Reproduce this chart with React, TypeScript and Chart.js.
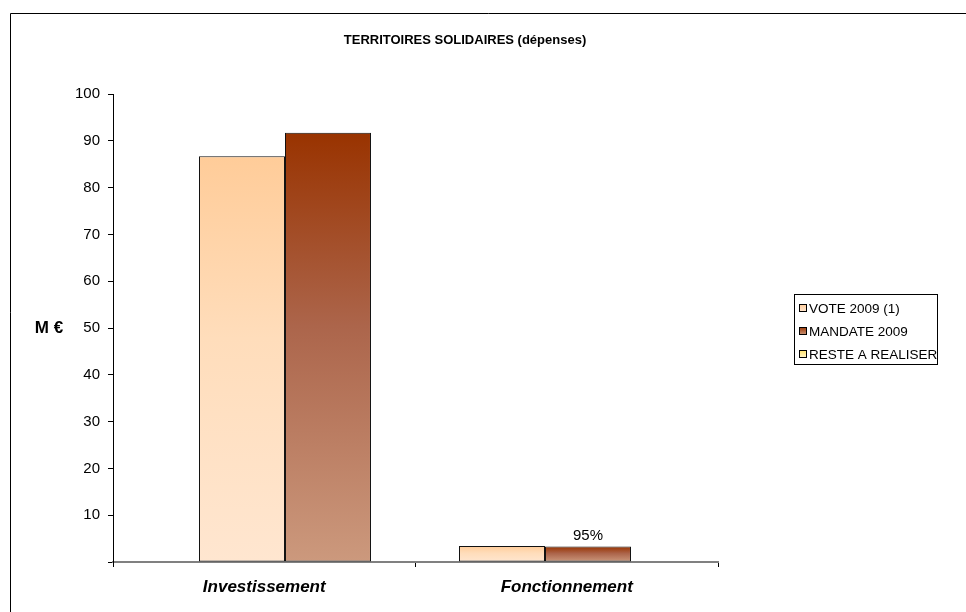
import React, { useEffect, useRef } from 'react';
import { Chart, registerables } from 'chart.js';
Chart.register(...registerables);

const chartTitle = 'TERRITOIRES SOLIDAIRES (dépenses)';
const yTitle = 'M €';
const categories = ['Investissement', 'Fonctionnement'];
const seriesNames = ['VOTE 2009 (1)', 'MANDATE 2009', 'RESTE A REALISER'];
const voteValues = [86.7, 3.4];
const mandateValues = [91.7, 3.3];
const resteValues: (number | null)[] = [null, null];
const mandateLabels = ['', '95%'];
const yMin = 0;
const yMax = 100;
const yStep = 10;

const voteColors = ['#FFCC99', '#FFDDBB', '#FFE6D0'];
const mandateColors = ['#993300', '#AC654B', '#CC997D'];
const resteColors = ['#FFE066', '#FFEC99', '#FFF5CC'];
const seriesColors = [voteColors, mandateColors, resteColors];

const FONT = '"Liberation Sans", Arial, Helvetica, sans-serif';

function gradientFor(colors: string[]) {
  return (ctx: any) => {
    const chart = ctx.chart;
    const area = chart.chartArea;
    if (!area || ctx.type !== 'data' || !ctx.parsed) return colors[0];
    const ys = chart.scales.y;
    const top = ys.getPixelForValue(ctx.parsed.y);
    const bottom = ys.getPixelForValue(0);
    if (!isFinite(top) || !isFinite(bottom) || bottom - top < 1) return colors[0];
    const g = chart.ctx.createLinearGradient(0, top, 0, bottom);
    g.addColorStop(0, colors[0]);
    g.addColorStop(0.45, colors[1]);
    g.addColorStop(1, colors[2]);
    return g;
  };
}

const decorPlugin = {
  id: 'decor',
  beforeDraw(chart: any) {
    const c = chart.ctx;
    c.save();
    c.fillStyle = '#fff';
    c.fillRect(0, 0, chart.width, chart.height);
    c.strokeStyle = '#000';
    c.lineWidth = 1;
    c.beginPath();
    c.moveTo(10.5, chart.height);
    c.lineTo(10.5, 13.5);
    c.lineTo(chart.width, 13.5);
    c.stroke();
    c.restore();
  },
  afterDatasetsDraw(chart: any) {
    const c = chart.ctx;
    const meta = chart.getDatasetMeta(1);
    c.save();
    c.font = `15px ${FONT}`;
    c.fillStyle = '#000';
    c.textAlign = 'center';
    c.textBaseline = 'bottom';
    meta.data.forEach((bar: any, i: number) => {
      if (mandateLabels[i]) c.fillText(mandateLabels[i], bar.x, bar.y - 3);
    });
    c.restore();
  },
  afterDraw(chart: any) {
    const c = chart.ctx;
    c.save();
    c.font = `bold 13px ${FONT}`;
    c.fillStyle = '#000';
    c.textAlign = 'center';
    c.textBaseline = 'middle';
    c.fillText(chartTitle, 465, 40);
    c.font = `bold 17px ${FONT}`;
    c.fillText(yTitle, 49, 328);
    const lx = 794, ly = 294, lw = 143, lh = 70;
    c.strokeStyle = '#000';
    c.lineWidth = 1;
    c.strokeRect(lx + 0.5, ly + 0.5, lw, lh);
    c.font = `13.5px ${FONT}`;
    c.textAlign = 'left';
    seriesNames.forEach((name, i) => {
      const cy = 308 + i * 23;
      const g = c.createLinearGradient(0, cy - 4, 0, cy + 4);
      g.addColorStop(0, seriesColors[i][0]);
      g.addColorStop(1, seriesColors[i][2]);
      c.fillStyle = g;
      c.fillRect(799.5, cy - 3.5, 7, 7);
      c.strokeStyle = '#000';
      c.strokeRect(799.5, cy - 3.5, 7, 7);
      c.fillStyle = '#000';
      c.fillText(name, 809, cy + 1);
    });
    c.restore();
  },
};

export default function App() {
  const ref = useRef<HTMLCanvasElement | null>(null);
  useEffect(() => {
    if (!ref.current) return;
    const toPoints = (vals: (number | null)[]) => vals.map((v, i) => ({ x: i, y: v }));
    const mk = (i: number, vals: (number | null)[]) => ({
      label: seriesNames[i],
      data: toPoints(vals) as any,
      xAxisID: 'xb',
      backgroundColor: gradientFor(seriesColors[i]) as any,
      borderColor: '#111',
      borderWidth: 1,
      borderSkipped: false,
    });
    const chart = new Chart(ref.current, {
      type: 'bar',
      data: {
        datasets: [mk(0, voteValues), mk(1, mandateValues), mk(2, resteValues)],
      },
      plugins: [decorPlugin],
      options: {
        animation: false,
        responsive: false,
        devicePixelRatio: 1,
        skipNull: true,
        categoryPercentage: 0.6615,
        barPercentage: 1,
        layout: { padding: { left: 0, top: 94, right: 248, bottom: 0 } },
        plugins: {
          legend: { display: false },
          title: { display: false },
          tooltip: { enabled: false },
        },
        scales: {
          x: {
            type: 'category',
            labels: categories,
            offset: true,
            position: 'bottom',
            grid: { offset: true, drawOnChartArea: false, drawTicks: true, tickLength: 5, color: '#000', lineWidth: 1 },
            border: { display: true, color: '#808080', width: 2 },
            ticks: {
              color: '#000',
              padding: 10,
              maxRotation: 0,
              autoSkip: false,
              font: { family: FONT, size: 17, weight: 'bold', style: 'italic' },
            },
            afterFit: (s: any) => { s.height = 50; },
          },
          xb: {
            type: 'linear',
            display: false,
            offset: false,
            grid: { offset: false },
            min: -0.6615,
            max: 1.6654,
            afterBuildTicks: (s: any) => { s.ticks = categories.map((_, i) => ({ value: i })); },
          },
          y: {
            min: yMin,
            max: yMax,
            position: 'left',
            grid: { drawOnChartArea: false, drawTicks: true, tickLength: 5, color: '#000', lineWidth: 1 },
            border: { display: true, color: '#000', width: 1 },
            ticks: {
              stepSize: yStep,
              color: '#000',
              padding: 8,
              font: { family: FONT, size: 15 },
              callback: (v: any) => (v === 0 ? '' : String(v)),
            },
            afterFit: (s: any) => { s.width = 113; },
          },
        },
      } as any,
    });
    return () => chart.destroy();
  }, []);
  return (
    <div style={{ position: 'fixed', left: 0, top: 0, width: 966, height: 612, overflow: 'hidden', background: '#fff' }}>
      <canvas ref={ref} width={966} height={612} style={{ display: 'block' }} />
    </div>
  );
}
